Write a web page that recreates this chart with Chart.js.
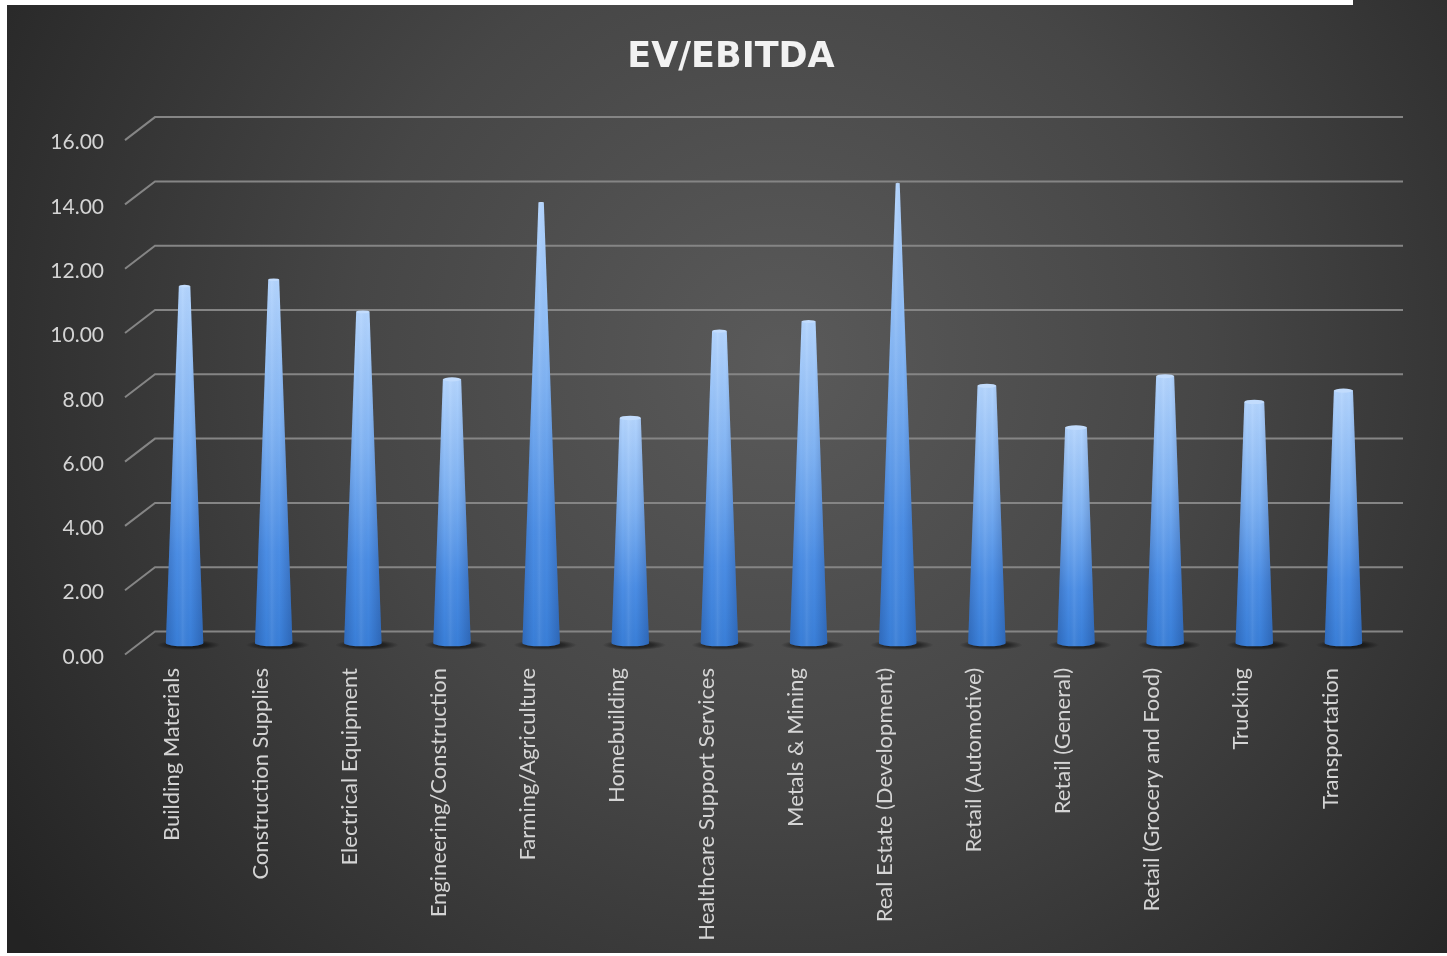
<!DOCTYPE html>
<html>
<head>
<meta charset="utf-8">
<script src="https://cdn.jsdelivr.net/npm/chart.js@4.4.1/dist/chart.umd.min.js"></script>
<style>
  html, body { margin: 0; padding: 0; background: #ffffff; }
  #wrap { width: 1447px; height: 956px; position: relative; }
</style>
</head>
<body>
<div id="wrap"><canvas id="c"></canvas></div>
<script>
// ---- data ----
const categories = [
  "Building Materials", "Construction Supplies", "Electrical Equipment",
  "Engineering/Construction", "Farming/Agriculture", "Homebuilding",
  "Healthcare Support Services", "Metals & Mining", "Real Estate (Development)",
  "Retail (Automotive)", "Retail (General)", "Retail (Grocery and Food)",
  "Trucking", "Transportation"
];
const evEbitda = [11.1, 11.3, 10.3, 8.2, 13.7, 7.0, 9.7, 10.0, 14.3, 8.0, 6.7, 8.3, 7.5, 7.85];
const yTicks = [0, 2, 4, 6, 8, 10, 12, 14, 16];
const chartTitle = "EV/EBITDA";

// 3D offsets (depth illusion)
const DEPTH_X = 15, DEPTH_Y = 11.5;

const bgPlugin = {
  id: 'bg',
  beforeDraw(chart) {
    const ctx = chart.ctx, W = chart.width, H = chart.height;
    ctx.save();
    ctx.fillStyle = '#ffffff';
    ctx.fillRect(0, 0, W, H);
    const g = ctx.createRadialGradient(780, 360, 0, 780, 360, 950);
    g.addColorStop(0, '#5a5a5a');
    g.addColorStop(0.45, '#464646');
    g.addColorStop(1, '#232323');
    ctx.fillStyle = g;
    ctx.fillRect(7, 5, W - 7, H - 8);
    ctx.fillRect(1353, 0, W - 1353, 5);
    ctx.restore();
  }
};

const gridPlugin = {
  id: 'grid3d',
  beforeDatasetsDraw(chart) {
    const ctx = chart.ctx, ys = chart.scales.y, area = chart.chartArea;
    ctx.save();
    ctx.strokeStyle = '#858585';
    ctx.lineWidth = 2;
    ys.ticks.forEach(t => {
      const py = ys.getPixelForValue(t.value);
      ctx.beginPath();
      ctx.moveTo(area.left - DEPTH_X, py + DEPTH_Y);
      ctx.lineTo(area.left + DEPTH_X, py - DEPTH_Y);
      ctx.lineTo(area.right + DEPTH_X, py - DEPTH_Y);
      ctx.stroke();
    });
    ctx.restore();
  }
};

const conePlugin = {
  id: 'cones',
  afterDatasetsDraw(chart) {
    const ctx = chart.ctx, ys = chart.scales.y;
    const apexY = ys.getPixelForValue(ys.max);
    const meta = chart.getDatasetMeta(0);
    ctx.save();
    meta.data.forEach(el => {
      const p = el.getProps(['x', 'y', 'base', 'width'], true);
      const x = p.x, top = p.y, base = p.base, w = p.width;
      const frac = (top - apexY) / (base - apexY);
      const wb = w / 2, wt = Math.max(w * frac / 2, 0.6);
      const ryb = w * 0.09, ryt = wt * 0.22;

      // shadow
      ctx.save();
      ctx.translate(x + 4, base + 2);
      ctx.scale(1, 0.16);
      const sg = ctx.createRadialGradient(0, 0, 0, 0, 0, w * 0.85);
      sg.addColorStop(0, 'rgba(0,0,0,0.75)');
      sg.addColorStop(0.6, 'rgba(0,0,0,0.45)');
      sg.addColorStop(1, 'rgba(0,0,0,0)');
      ctx.fillStyle = sg;
      ctx.beginPath();
      ctx.arc(0, 0, w * 0.85, 0, Math.PI * 2);
      ctx.fill();
      ctx.restore();

      const body = () => {
        ctx.beginPath();
        ctx.moveTo(x - wt, top);
        ctx.lineTo(x - wb, base);
        ctx.ellipse(x, base, wb, ryb, 0, Math.PI, 0, true);
        ctx.lineTo(x + wt, top);
        ctx.closePath();
      };
      const vg = ctx.createLinearGradient(0, base, 0, top);
      vg.addColorStop(0, '#3a7fd8');
      vg.addColorStop(0.25, '#4b8de4');
      vg.addColorStop(0.6, '#80b3f3');
      vg.addColorStop(1, '#b3d4fd');
      body();
      ctx.fillStyle = vg;
      ctx.fill();
      const hg = ctx.createLinearGradient(x - wb, 0, x + wb, 0);
      hg.addColorStop(0, 'rgba(10,30,80,0.22)');
      hg.addColorStop(0.3, 'rgba(10,30,80,0)');
      hg.addColorStop(0.45, 'rgba(255,255,255,0.07)');
      hg.addColorStop(0.65, 'rgba(10,30,80,0)');
      hg.addColorStop(1, 'rgba(10,30,80,0.25)');
      body();
      ctx.fillStyle = hg;
      ctx.fill();

      if (wt > 1.5) {
        ctx.beginPath();
        ctx.ellipse(x, top, wt, ryt, 0, 0, Math.PI * 2);
        ctx.fillStyle = '#c2dcfd';
        ctx.fill();
      }
    });
    ctx.restore();
  }
};

const tickColor = '#d4d4d4';

new Chart(document.getElementById('c'), {
  type: 'bar',
  data: {
    labels: categories,
    datasets: [{
      label: chartTitle,
      data: evEbitda,
      backgroundColor: 'rgba(0,0,0,0)',
      borderWidth: 0,
      categoryPercentage: 1,
      barPercentage: 0.42
    }]
  },
  options: {
    responsive: true,
    maintainAspectRatio: false,
    devicePixelRatio: 1,
    animation: false,
    layout: { padding: { left: 15, right: 0, top: 0, bottom: 0 } },
    plugins: {
      legend: { display: false },
      tooltip: { enabled: false },
      title: {
        display: true,
        text: chartTitle,
        color: '#f2f2f2',
        font: { family: 'DejaVu Sans', size: 35, weight: 'bold', lineHeight: 1.2 },
        padding: { top: 37, bottom: 49.6 }
      }
    },
    scales: {
      x: {
        grid: { display: false },
        border: { display: false },
        ticks: {
          color: tickColor,
          font: { family: 'Lato', size: 22 },
          minRotation: 90,
          maxRotation: 90,
          autoSkip: false,
          padding: 17,
          labelOffset: -13
        },
        afterFit(scale) { scale.height = 313; }
      },
      y: {
        min: 0,
        max: 16,
        grid: { display: false, drawTicks: false },
        border: { display: false },
        afterBuildTicks(scale) { scale.ticks = yTicks.map(v => ({ value: v })); },
        ticks: {
          color: tickColor,
          font: { family: 'Lato', size: 21 },
          padding: 36,
          labelOffset: 14,
          callback: v => Number(v).toFixed(2)
        },
        afterFit(scale) { scale.width = 125; }
      },
      yr: {
        position: 'right',
        display: true,
        min: 0,
        max: 16,
        grid: { display: false, drawTicks: false },
        border: { display: false },
        ticks: { display: false },
        afterFit(scale) { scale.width = 59; }
      }
    }
  },
  plugins: [bgPlugin, gridPlugin, conePlugin]
});
</script>
</body>
</html>
